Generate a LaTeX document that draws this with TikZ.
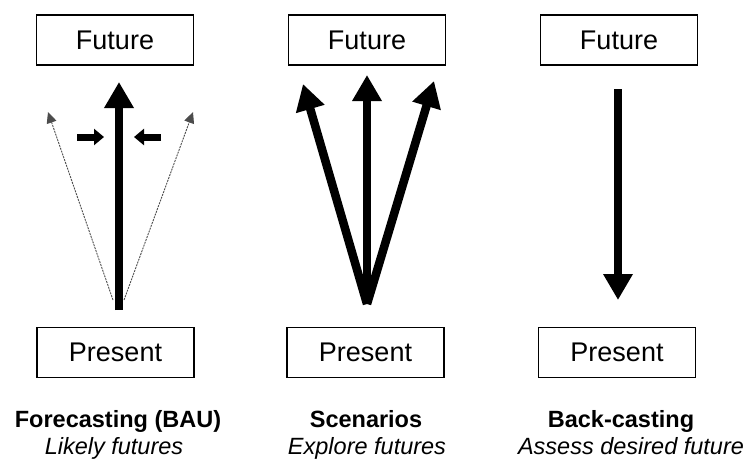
\documentclass[tikz,border=0pt]{standalone}
\usepackage{fontspec}
\setmainfont{Liberation Sans}
\usetikzlibrary{arrows.meta}
\begin{document}
\begin{tikzpicture}[x=1pt,y=-1pt,
  box/.style={draw, line width=1.4pt, minimum width=157pt, minimum height=50pt, inner sep=0pt, font=\fontsize{27}{31}\selectfont},
  bigarrow/.style={line width=8.5pt, -{Triangle[length=26pt,width=28pt]}},
  smallarrow/.style={line width=7pt, -{Triangle[length=10pt,width=16pt]}},
  thinarrow/.style={line width=0.9pt, draw=black!70, dash pattern=on 2pt off 1pt, -{Triangle[length=11pt,width=10pt]}},
  titlelabel/.style={anchor=base, font=\fontsize{23.5}{27}\selectfont\bfseries},
  sublabel/.style={anchor=base, font=\fontsize{23.5}{27}\selectfont\itshape}
]
\useasboundingbox (0,0) rectangle (751,460);

% boxes
\node[box] (f1) at (115,40) {Future};
\node[box] (f2) at (367,40) {Future};
\node[box] (f3) at (619,40) {Future};
\node[box] (p1) at (115.5,352.5) {Present};
\node[box] (p2) at (365.5,352.5) {Present};
\node[box] (p3) at (617,352.5) {Present};

% forecasting
\coordinate (fcb) at (119,310);
\coordinate (fct) at (119,82);
\coordinate (fcl0) at (113,300);
\coordinate (fcl1) at (48,112);
\coordinate (fcr0) at (124,300);
\coordinate (fcr1) at (193,112);
\coordinate (sla) at (77,137);
\coordinate (slb) at (104,137);
\coordinate (sra) at (161,137);
\coordinate (srb) at (134,137);
\draw[thinarrow] (fcl0) -- (fcl1);
\draw[thinarrow] (fcr0) -- (fcr1);
\draw[bigarrow] (fcb) -- (fct);
\draw[smallarrow] (sla) -- (slb);
\draw[smallarrow] (sra) -- (srb);

% scenarios
\coordinate (sb) at (367,304);
\coordinate (sc) at (367,75);
\coordinate (sl) at (303,84);
\coordinate (sr) at (434,81);
\draw[bigarrow] (sb) -- (sl);
\draw[bigarrow] (sb) -- (sr);
\draw[bigarrow] (sb) -- (sc);

% back-casting
\coordinate (bt) at (618,89);
\coordinate (bb) at (618,300);
\draw[bigarrow] (bt) -- (bb);

% labels
\node[titlelabel] (t1) at (118,427) {Forecasting (BAU)};
\node[sublabel] (s1) at (114,454) {Likely futures};
\node[titlelabel] (t2) at (366,427) {Scenarios};
\node[sublabel] (s2) at (367,454) {Explore futures};
\node[titlelabel] (t3) at (621,427) {Back-casting};
\node[sublabel] (s3) at (631,454) {Assess desired future};
\end{tikzpicture}
\end{document}
